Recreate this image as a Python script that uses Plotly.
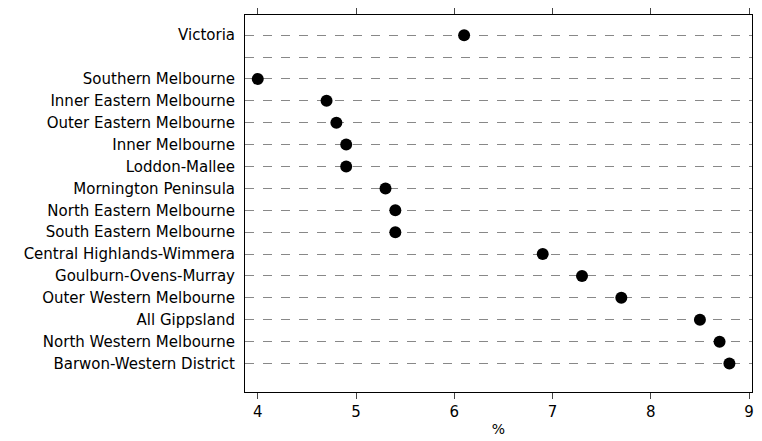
import plotly.graph_objects as go

# rows from top to bottom; "" is the empty spacer row under Victoria
regions = ["Victoria", "", "Southern Melbourne", "Inner Eastern Melbourne",
           "Outer Eastern Melbourne", "Inner Melbourne", "Loddon-Mallee",
           "Mornington Peninsula", "North Eastern Melbourne", "South Eastern Melbourne",
           "Central Highlands-Wimmera", "Goulburn-Ovens-Murray", "Outer Western Melbourne",
           "All Gippsland", "North Western Melbourne", "Barwon-Western District"]
values = [6.1, None, 4.0, 4.7, 4.8, 4.9, 4.9, 5.3, 5.4, 5.4, 6.9, 7.3, 7.7, 8.5, 8.7, 8.8]
x_ticks = [4, 5, 6, 7, 8, 9]

rows = list(range(len(regions)))

fig = go.Figure()
fig.add_trace(go.Scatter(x=values, y=rows, mode="markers",
                         marker=dict(color="black", size=12),
                         showlegend=False))
fig.add_trace(go.Scatter(x=values, y=rows, mode="markers", xaxis="x2",
                         marker=dict(opacity=0), showlegend=False, hoverinfo="skip"))

font = dict(family="DejaVu Sans, Liberation Sans, Arial", size=15, color="black")
fig.update_layout(
    width=746, height=433,
    margin=dict(l=237, r=2, t=7, b=49, autoexpand=False),
    plot_bgcolor="white", paper_bgcolor="white",
    font=font,
    xaxis=dict(range=[3.87, 9.03], tickvals=x_ticks, ticks="outside", ticklen=6,
               showline=True, linecolor="black", mirror=False, showgrid=False,
               zeroline=False, automargin=False, tickfont=dict(size=15),
               title=dict(text="%", standoff=4, font=dict(size=14))),
    xaxis2=dict(range=[3.87, 9.03], tickvals=x_ticks, ticks="outside", ticklen=6,
                overlaying="x", side="top", showticklabels=False, automargin=False,
                showline=True, linecolor="black", showgrid=False, zeroline=False),
    yaxis=dict(range=[16.3, -0.92], tickvals=rows, ticktext=regions,
               ticks="", showline=True, linecolor="black", mirror=True, automargin=False,
               showgrid=True, gridcolor="#888888", griddash="dash", gridwidth=1,
               zeroline=False, ticklabelstandoff=6),
)
fig.write_html("out.html")
